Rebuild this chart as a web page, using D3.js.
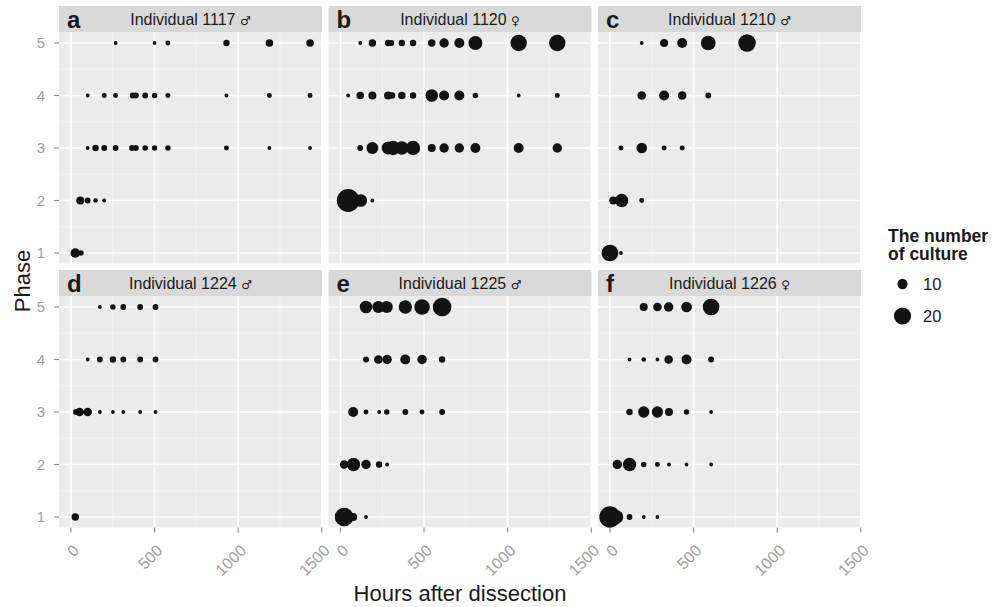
<!DOCTYPE html>
<html>
<head>
<meta charset="utf-8">
<script src="https://cdn.jsdelivr.net/npm/d3@7"></script>
<style>
  html, body { margin: 0; padding: 0; background: #fff; }
  svg { display: block; font-family: "Liberation Sans", Arial, sans-serif; }
</style>
</head>
<body>
<svg id="chart" width="1003" height="607"></svg>
<script>
// facets
const panelLetters = ['a', 'b', 'c', 'd', 'e', 'f'];
const individuals = ['1117', '1120', '1210', '1224', '1225', '1226'];
const sexes = ['\u2642', '\u2640', '\u2642', '\u2642', '\u2642', '\u2640'];
const phaseTicks = [1, 2, 3, 4, 5];
const hourTicks = [0, 500, 1000, 1500];
const legendValues = [10, 20];

// [hours after dissection, phase, number of culture]
const ind1117 = [
    [267, 5, 7], [500, 5, 7], [580, 5, 7.1], [930, 5, 7.5], [1187, 5, 8], [1430, 5, 8],
    [100, 4, 7], [199, 4, 7.1], [267, 4, 7.1], [369, 4, 7.3], [388, 4, 7.3], [444, 4, 7.3],
    [500, 4, 7.2], [580, 4, 7.1], [930, 4, 7], [1187, 4, 7.1], [1430, 4, 7.1],
    [100, 3, 7], [147, 3, 7.5], [199, 3, 7.3], [267, 3, 7.3], [365, 3, 7.3], [388, 3, 7.3],
    [444, 3, 7.2], [500, 3, 7.2], [580, 3, 7.2], [930, 3, 7.1], [1187, 3, 7], [1430, 3, 7],
    [56, 2, 8.3], [100, 2, 7.3], [147, 2, 7.05], [199, 2, 7],
    [26, 1, 9.3], [60, 1, 7.2]
];
const ind1120 = [
    [118, 5, 7], [191, 5, 8], [285, 5, 7.5], [305, 5, 7.3], [367, 5, 7.5], [434, 5, 7.5],
    [546, 5, 8], [620, 5, 9.3], [711, 5, 9.8], [807, 5, 14.5], [1066, 5, 18.5], [1297, 5, 18.5],
    [46, 4, 7], [118, 4, 8], [191, 4, 8.3], [285, 4, 8.3], [309, 4, 7.5], [367, 4, 8],
    [434, 4, 7.5], [546, 4, 12.5], [620, 4, 9.8], [711, 4, 9.8], [807, 4, 7.2], [1066, 4, 7], [1297, 4, 7.1],
    [118, 3, 7.3], [191, 3, 11.8], [285, 3, 13], [315, 3, 15], [367, 3, 14], [434, 3, 15],
    [546, 3, 8.3], [620, 3, 9.3], [711, 3, 9.3], [807, 3, 9.8], [1066, 3, 9.8], [1297, 3, 9.3],
    [46, 2, 33], [122, 2, 12.5], [191, 2, 7]
];
const ind1210 = [
    [190, 5, 7], [324, 5, 8.3], [432, 5, 9.8], [588, 5, 15.6], [820, 5, 20.5],
    [190, 4, 8.7], [324, 4, 9.8], [432, 4, 8.7], [588, 4, 7.3],
    [66, 3, 7.1], [190, 3, 10.4], [324, 3, 7.1], [432, 3, 7.1],
    [20, 2, 8.3], [70, 2, 13.5], [190, 2, 7.1],
    [0, 1, 19], [66, 1, 7]
];
const ind1224 = [
    [173, 5, 7], [251, 5, 7.2], [313, 5, 7.3], [414, 5, 7.3], [506, 5, 7.3],
    [100, 4, 7], [173, 4, 7.3], [251, 4, 7.5], [313, 4, 7.3], [414, 4, 7.3], [506, 4, 7.3],
    [30, 3, 7.3], [52, 3, 8.7], [100, 3, 8.7], [173, 3, 7], [251, 3, 7], [313, 3, 7], [414, 3, 7], [506, 3, 7],
    [26, 1, 8]
];
const ind1225 = [
    [153, 5, 12.5], [227, 5, 12], [277, 5, 12], [388, 5, 13.5], [488, 5, 17], [608, 5, 23],
    [153, 4, 7.3], [227, 4, 8.7], [279, 4, 9.3], [388, 4, 9.8], [488, 4, 9.3], [608, 4, 7.5],
    [76, 3, 9.8], [153, 3, 7.1], [231, 3, 7], [277, 3, 7.2], [388, 3, 7.3], [488, 3, 7.1], [608, 3, 7.3],
    [22, 2, 8.7], [78, 2, 13.5], [153, 2, 9.3], [231, 2, 7.5], [279, 2, 7],
    [22, 1, 23], [76, 1, 8.3], [153, 1, 7]
];
const ind1226 = [
    [202, 5, 8.3], [284, 5, 8.7], [351, 5, 9.3], [458, 5, 10.4], [605, 5, 19],
    [117, 4, 7], [202, 4, 7.05], [284, 4, 7], [351, 4, 8.7], [458, 4, 9.8], [605, 4, 7.3],
    [117, 3, 7.5], [202, 3, 11], [284, 3, 11], [353, 3, 8.3], [458, 3, 7.2], [605, 3, 7],
    [44, 2, 9.3], [117, 2, 13.5], [202, 2, 7.2], [284, 2, 7.1], [353, 2, 7], [458, 2, 7], [605, 2, 7],
    [0, 1, 29], [40, 1, 13.5], [117, 1, 7.3], [202, 1, 7], [284, 1, 7]
];
const panelData = [ind1117, ind1120, ind1210, ind1224, ind1225, ind1226];

const svg = d3.select('#chart');

const panelW = 263;
const panelH = 231;
const stripH = 26.5;
const colX = [59, 328.5, 598];
const rowY = [6, 270];

const tickColor = '#9e9e9e';
const inkColor = '#1a1a1a';

const allPts = panelData.flat();
const hExt = d3.extent(allPts, d => d[0]);
const hPad = (hExt[1] - hExt[0]) * 0.05;
const x = d3.scaleLinear().domain([hExt[0] - hPad, hExt[1] + hPad]).range([0, panelW]);
const y = d3.scaleLinear().domain([0.8, 5.2]).range([panelH, 0]);

// ggplot-like size: rescale to 0..1, then area
const sizeT = d3.scaleLinear().domain(d3.extent(allPts, d => d[2])).range([0, 1]);
const sizeR = d3.scaleSqrt().domain([0, 1]).range([1.9, 11.4]);
const radius = v => sizeR(sizeT(v));

const minorX = [250, 750, 1250];
const minorY = [1.5, 2.5, 3.5, 4.5];

panelData.forEach((pts, i) => {
    const col = i % 3, row = Math.floor(i / 3);
    const px = colX[col];
    const sy = rowY[row];
    const py = sy + stripH;

    // strip
    const strip = svg.append('g').attr('transform', `translate(${px},${sy})`);
    strip.append('rect').attr('width', panelW).attr('height', stripH).attr('fill', '#d9d9d9');
    const lab = strip.append('text')
        .attr('x', panelW / 2).attr('y', stripH / 2)
        .attr('dy', '0.38em')
        .attr('text-anchor', 'middle')
        .style('font-size', '16px')
        .style('fill', inkColor);
    lab.append('tspan').text(`Individual ${individuals[i]} `);
    lab.append('tspan')
        .style('font-family', '"DejaVu Sans", sans-serif')
        .style('font-size', '12px')
        .text(sexes[i]);
    strip.append('text')
        .attr('x', 8).attr('y', stripH / 2)
        .attr('dy', '0.36em')
        .style('font-size', '24px')
        .style('font-weight', 'bold')
        .style('fill', inkColor)
        .text(panelLetters[i]);

    const g = svg.append('g').attr('transform', `translate(${px},${py})`);
    g.append('rect').attr('width', panelW).attr('height', panelH).attr('fill', '#ebebeb');

    g.selectAll('.minx').data(minorX).enter().append('line')
        .attr('x1', d => x(d)).attr('x2', d => x(d))
        .attr('y1', 0).attr('y2', panelH)
        .attr('stroke', '#f5f5f5').attr('stroke-width', 0.8);
    g.selectAll('.miny').data(minorY).enter().append('line')
        .attr('x1', 0).attr('x2', panelW)
        .attr('y1', d => y(d)).attr('y2', d => y(d))
        .attr('stroke', '#f5f5f5').attr('stroke-width', 0.8);
    g.selectAll('.majx').data(hourTicks.filter(t => x(t) <= panelW)).enter().append('line')
        .attr('x1', d => x(d)).attr('x2', d => x(d))
        .attr('y1', 0).attr('y2', panelH)
        .attr('stroke', '#fff').attr('stroke-width', 1.6);
    g.selectAll('.majy').data(phaseTicks).enter().append('line')
        .attr('x1', 0).attr('x2', panelW)
        .attr('y1', d => y(d)).attr('y2', d => y(d))
        .attr('stroke', '#fff').attr('stroke-width', 1.6);

    g.selectAll('circle').data(pts).enter().append('circle')
        .attr('cx', d => x(d[0]))
        .attr('cy', d => y(d[1]))
        .attr('r', d => radius(d[2]))
        .attr('fill', '#121212');

    // y axis on left column
    if (col === 0) {
        phaseTicks.forEach(t => {
            g.append('line')
                .attr('x1', -5).attr('x2', 0)
                .attr('y1', y(t)).attr('y2', y(t))
                .attr('stroke', '#8a8a8a').attr('stroke-width', 1.1);
            g.append('text')
                .attr('x', -14).attr('y', y(t))
                .attr('dy', '0.36em')
                .attr('text-anchor', 'end')
                .style('font-size', '15px')
                .style('fill', tickColor)
                .text(t);
        });
    }
    // x axis on bottom row
    if (row === 1) {
        hourTicks.forEach(t => {
            const tx = x(t);
            g.append('line')
                .attr('x1', tx).attr('x2', tx)
                .attr('y1', panelH).attr('y2', panelH + 5)
                .attr('stroke', '#8a8a8a').attr('stroke-width', 1.1);
            g.append('text')
                .attr('transform', `translate(${tx + 5},${panelH + 20}) rotate(-45)`)
                .attr('dy', '0.36em')
                .attr('text-anchor', 'end')
                .style('font-size', '16px')
                .style('fill', tickColor)
                .text(t);
        });
    }
});

// axis titles
svg.append('text')
    .attr('transform', 'translate(30,281) rotate(-90)')
    .attr('text-anchor', 'middle')
    .style('font-size', '22px')
    .style('fill', inkColor)
    .text('Phase');
svg.append('text')
    .attr('x', 460).attr('y', 601)
    .attr('text-anchor', 'middle')
    .style('font-size', '22px')
    .style('fill', inkColor)
    .text('Hours after dissection');

// legend
const leg = svg.append('g').attr('transform', 'translate(888,0)');
leg.append('text')
    .attr('x', 0).attr('y', 241.5)
    .style('font-size', '17.5px').style('font-weight', 'bold').style('fill', inkColor)
    .text('The number');
leg.append('text')
    .attr('x', 0).attr('y', 259.5)
    .style('font-size', '17.5px').style('font-weight', 'bold').style('fill', inkColor)
    .text('of culture');
legendValues.forEach((v, i) => {
    const cy = 284 + i * 32;
    leg.append('circle').attr('cx', 14.5).attr('cy', cy).attr('r', radius(v)).attr('fill', '#121212');
    leg.append('text')
        .attr('x', 35).attr('y', cy).attr('dy', '0.36em')
        .style('font-size', '16.5px').style('fill', inkColor)
        .text(v);
});
</script>
</body>
</html>
